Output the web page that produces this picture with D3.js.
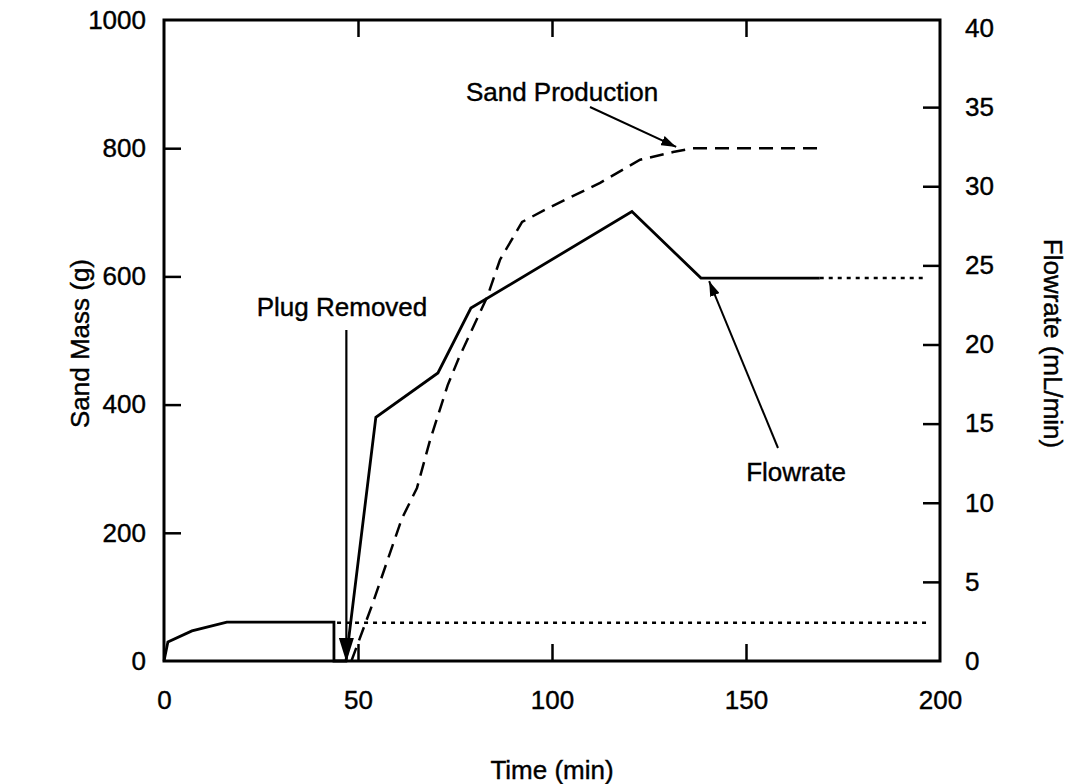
<!DOCTYPE html>
<html><head><meta charset="utf-8">
<script src="https://cdn.jsdelivr.net/npm/d3@7"></script>
<style>
html,body{margin:0;padding:0;background:#fff;}
text{font-family:"Liberation Sans",Arial,Helvetica,sans-serif;fill:#000;}
</style></head>
<body><svg id="chart" width="1072" height="784"></svg>
<script>
// ---- data ----
const timeTicks = [0, 50, 100, 150, 200];
const massTicks = [0, 200, 400, 600, 800, 1000];
const flowTicks = [0, 5, 10, 15, 20, 25, 30, 35, 40];

// Flowrate (mL/min) - solid
const flowTime  = [0, 1.0, 7.2, 16.2, 43.8, 43.8, 46.9, 54.6, 70.6, 79.1, 120.6, 138.4, 169.0];
const flowValue = [0, 1.2, 1.9, 2.46, 2.46, 0,    0,    15.4, 18.2, 22.3, 28.4,  24.2,  24.2];
// Flowrate extension - dotted
const flowExtTime  = [169.0, 196.4];
const flowExtValue = [24.2, 24.2];
// Base dotted line
const baseTime  = [44.6, 196.4];
const baseValue = [2.42, 2.42];

// Sand production (g) - dashed
const sandTime = [48.3, 53.5, 61.3, 65.2, 68.6, 73.1, 76.0, 83.3, 86.6, 92.3, 99.5, 112.4, 122.7, 131.2, 136.3, 169.1];
const sandMass = [0,    85,   222,  270,  345,  430,  473,  568,  626,  685,  708,  746,   782,   794,   800,   800];

// ---- drawing ----
const svg = d3.select("#chart");
const L = 164, R = 940, T = 20, B = 661;
const x = d3.scaleLinear().domain([0, 200]).range([L, R]);
const yL = d3.scaleLinear().domain([0, 1000]).range([B, T]);
const yR = d3.scaleLinear().domain([0, 40]).range([B, 28]);

const fs = 26;
const defs = svg.append("defs");
function marker(id, w, h) {
  defs.append("marker").attr("id", id).attr("viewBox", `0 0 ${w} ${h}`)
    .attr("refX", w).attr("refY", h / 2).attr("markerWidth", w).attr("markerHeight", h)
    .attr("markerUnits", "userSpaceOnUse").attr("orient", "auto")
    .append("path").attr("d", `M0,0L${w},${h/2}L0,${h}Z`).attr("fill", "#000");
}
marker("bigArrow", 24, 15);
marker("smallArrow", 15, 10);

// frame
svg.append("rect").attr("x", L).attr("y", T).attr("width", R - L).attr("height", B - T)
  .attr("fill", "none").attr("stroke", "#000").attr("stroke-width", 3);

const tl = 17;
const fmt = d3.format("d");
// axes with inward ticks
const axB = d3.axisBottom(x).tickValues(timeTicks).tickFormat(fmt).tickSize(-tl).tickPadding(30);
const gB = svg.append("g").attr("transform", `translate(0,${B})`).call(axB);
const axT = d3.axisTop(x).tickValues(timeTicks.slice(1, -1)).tickSize(-tl).tickFormat("");
const gT = svg.append("g").attr("transform", `translate(0,${T})`).call(axT);
const axL = d3.axisLeft(yL).tickValues(massTicks).tickFormat(fmt).tickSize(-tl).tickPadding(18);
const gL = svg.append("g").attr("transform", `translate(${L},0)`).call(axL);
const axR = d3.axisRight(yR).tickValues(flowTicks).tickFormat(fmt).tickSize(-tl).tickPadding(25);
const gR = svg.append("g").attr("transform", `translate(${R},0)`).call(axR);
[gB, gT, gL, gR].forEach(g => {
  g.select(".domain").remove();
  g.selectAll(".tick line").attr("stroke", "#000").attr("stroke-width", 2.5);
  g.selectAll(".tick text").attr("font-size", fs).attr("font-family", "Liberation Sans, Arial, sans-serif")
    .attr("fill", "#000").attr("stroke", "#000").attr("stroke-width", 0.4);
});
// hide tick marks at the corners
gB.selectAll(".tick").filter(d => d === 0 || d === 200).select("line").remove();
gL.selectAll(".tick").filter(d => d === 0 || d === 1000).select("line").remove();
gR.selectAll(".tick").filter(d => d === 0 || d === 40).select("line").remove();

// lines
const lineR = d3.line().x(d => x(d[0])).y(d => yR(d[1]));
const lineL = d3.line().x(d => x(d[0])).y(d => yL(d[1]));

svg.append("path").datum(flowTime.map((t, i) => [t, flowValue[i]]))
  .attr("d", lineR).attr("fill", "none").attr("stroke", "#000").attr("stroke-width", 2.8)
  .attr("stroke-linejoin", "miter");
svg.append("path").datum(flowExtTime.map((t, i) => [t, flowExtValue[i]]))
  .attr("d", lineR).attr("fill", "none").attr("stroke", "#000").attr("stroke-width", 2.5)
  .attr("stroke-dasharray", "4,5");
svg.append("path").datum(baseTime.map((t, i) => [t, baseValue[i]]))
  .attr("d", lineR).attr("fill", "none").attr("stroke", "#000").attr("stroke-width", 2.5)
  .attr("stroke-dasharray", "4,5");
svg.append("path").datum(sandTime.map((t, i) => [t, sandMass[i]]))
  .attr("d", lineL).attr("fill", "none").attr("stroke", "#000").attr("stroke-width", 2.5)
  .attr("stroke-dasharray", "14,8");

// axis titles
function txt(sel) { return sel.attr("font-size", fs).attr("stroke", "#000").attr("stroke-width", 0.4); }
txt(svg.append("text").attr("x", x(100)).attr("y", 770).attr("text-anchor", "middle")
  .attr("dominant-baseline", "central")).text("Time (min)");
txt(svg.append("text").attr("transform", `translate(80,${(T + B) / 2 + 3}) rotate(-90)`)
  .attr("text-anchor", "middle").attr("dominant-baseline", "central")).text("Sand Mass (g)");
txt(svg.append("text").attr("transform", `translate(1053,${(T + B) / 2 + 3}) rotate(90)`)
  .attr("text-anchor", "middle").attr("dominant-baseline", "central")).text("Flowrate (mL/min)");

// annotations
function ann(label, tx, ty, x1, y1, x2, y2, mk, sw) {
  txt(svg.append("text").attr("x", tx).attr("y", ty).attr("text-anchor", "middle")
    .attr("dominant-baseline", "central")).text(label);
  svg.append("line").attr("x1", x1).attr("y1", y1).attr("x2", x2).attr("y2", y2)
    .attr("stroke", "#000").attr("stroke-width", sw).attr("marker-end", `url(#${mk})`);
}
ann("Sand Production", 562, 92, 590, 107, x(132), yL(802), "smallArrow", 2);
ann("Plug Removed", 342, 307, x(47), 330, x(47), B + 1, "bigArrow", 2.2);
ann("Flowrate", 796, 472, 778, 448, x(140.5), yR(24.0), "smallArrow", 2);
</script></body></html>
